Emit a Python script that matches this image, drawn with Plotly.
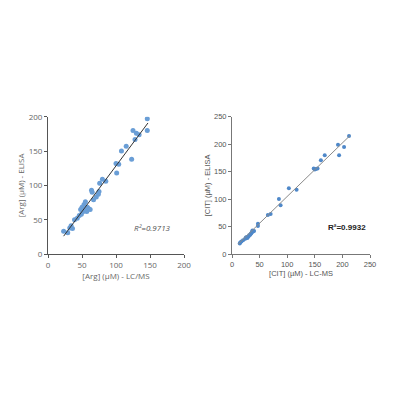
import plotly.graph_objects as go
from plotly.subplots import make_subplots

# Arg: LC/MS vs ELISA
arg_lcms = [23, 29, 32, 34, 36, 39, 43, 46, 49, 48, 50, 52, 53, 55, 55, 57, 60, 62, 58,
            64, 65, 67, 71, 74, 75, 76, 80, 85, 101, 100, 104, 108, 115, 123, 125, 128,
            130, 134, 146, 146]
arg_elisa = [33, 31, 38, 41, 37, 50, 52, 56, 58, 65, 68, 62, 72, 76, 65, 62, 66, 65, 68,
             93, 90, 79, 83, 87, 91, 103, 109, 106, 118, 132, 131, 150, 157, 138, 180, 167,
             176, 174, 197, 180]
arg_fit_x = [23, 147]
arg_fit_y = [26, 191]

# CIT: LC-MS vs ELISA
cit_lcms = [14, 15, 17, 20, 24, 25, 27, 28, 30, 31, 33, 34, 35, 36, 37, 38, 40, 47, 47,
            65, 70, 85, 88, 103, 117, 148, 150, 152, 155, 161, 168, 192, 194, 203, 212]
cit_elisa = [19, 21, 23, 25, 28, 30, 31, 29, 32, 34, 35, 37, 38, 40, 43, 41, 42, 51, 55,
             71, 73, 100, 89, 120, 117, 156, 154, 155, 156, 171, 180, 199, 180, 195, 215]
cit_fit_x = [11, 214]
cit_fit_y = [18, 216]

fig = make_subplots(rows=1, cols=2)

fig.add_trace(go.Scatter(x=arg_lcms, y=arg_elisa, mode="markers",
                         marker=dict(color="#6a9ed6", size=5)), row=1, col=1)
fig.add_trace(go.Scatter(x=arg_fit_x, y=arg_fit_y, mode="lines",
                         line=dict(color="#333333", width=1)), row=1, col=1)
fig.add_trace(go.Scatter(x=cit_lcms, y=cit_elisa, mode="markers",
                         marker=dict(color="#4f88c9", size=4)), row=1, col=2)
fig.add_trace(go.Scatter(x=cit_fit_x, y=cit_fit_y, mode="lines",
                         line=dict(color="#8a8a8a", width=1)), row=1, col=2)

left_font = dict(family="Open Sans", size=8, color="#666666")
right_font = dict(family="Liberation Sans", size=7.5, color="#555555")

axis_common = dict(showgrid=False, zeroline=False, showline=True, linewidth=1,
                   ticks="outside", ticklen=3, tickwidth=1, automargin=False)

# page body adds ~8px offset, so domains are shifted up/left a bit
fig.update_xaxes(**axis_common, range=[0, 200], dtick=50, linecolor="#555555",
                 tickcolor="#555555", domain=[0.10, 0.44], tickfont=left_font,
                 title=dict(text="[Arg] (µM) - LC/MS", font=left_font, standoff=2),
                 row=1, col=1)
fig.update_yaxes(**axis_common, range=[0, 200], dtick=50, linecolor="#555555",
                 tickcolor="#555555", domain=[0.385, 0.728], tickfont=left_font,
                 title=dict(text="[Arg] (µM) - ELISA", font=left_font, standoff=2),
                 row=1, col=1)
fig.update_xaxes(**axis_common, range=[0, 250], dtick=50, linecolor="#777777",
                 tickcolor="#777777", domain=[0.56, 0.905], tickfont=right_font,
                 title=dict(text="[CIT] (µM) - LC-MS", font=right_font, standoff=2),
                 row=1, col=2)
fig.update_yaxes(**axis_common, range=[0, 250], dtick=50, linecolor="#777777",
                 tickcolor="#777777", domain=[0.385, 0.728], tickfont=right_font,
                 title=dict(text="[CIT] (µM) - ELISA", font=right_font, standoff=2),
                 row=1, col=2)

fig.add_annotation(x=154, y=38, xref="x", yref="y", showarrow=False,
                   text="<i>R²=0.9713</i>", font=dict(family="Open Sans", size=8, color="#555555"))
fig.add_annotation(x=208, y=49, xref="x2", yref="y2", showarrow=False,
                   text="<b>R²=0.9932</b>", font=dict(family="Liberation Sans", size=8, color="#222222"))

fig.update_layout(width=400, height=400, showlegend=False,
                  margin=dict(l=0, r=0, t=0, b=0),
                  paper_bgcolor="white", plot_bgcolor="white")

fig.write_html("out.html")
